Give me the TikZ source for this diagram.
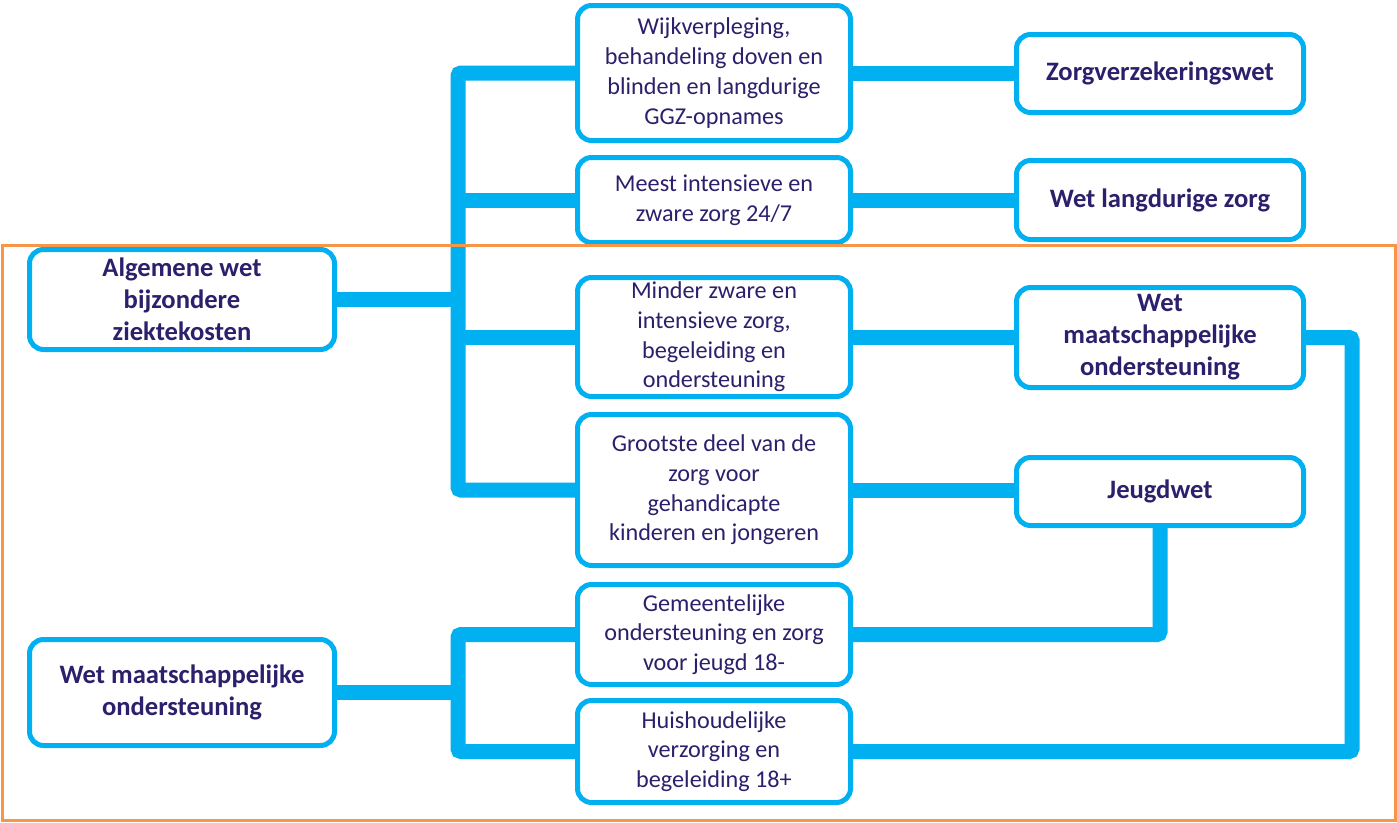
\documentclass[tikz,border=0pt]{standalone}
\usepackage{fontspec}
\setmainfont{Carlito}
\definecolor{zcyan}{RGB}{0,176,240}
\definecolor{znavy}{RGB}{44,32,108}
\definecolor{zorange}{RGB}{247,150,70}
\pgfdeclarelayer{bg}
\pgfsetlayers{bg,main}

\begin{document}
\begin{tikzpicture}[x=1pt,y=-1pt,
    lawbox/.style={draw=zcyan,line width=5pt,rounded corners=14pt,fill=white,
      align=center,text=znavy,inner sep=0pt},
    careitem/.style={lawbox,minimum width=273pt,font=\fontsize{24.2}{29.7}\selectfont},
    wetbox/.style={lawbox,font=\bfseries\fontsize{26.6}{32}\selectfont},
    link/.style={line width=15pt,zcyan,rounded corners=3pt}]
  \useasboundingbox (0,0) rectangle (1397,822);

  \node[wetbox,minimum width=305pt,minimum height=100pt] (awbz) at (182,299.5)
    {Algemene wet\\bijzondere\\ziektekosten};
  \node[wetbox,minimum width=305pt,minimum height=106pt] (wmo) at (182,692.5)
    {Wet maatschappelijke\\ondersteuning};

  \node[careitem,minimum height=135pt] (wijk) at (714,73)
    {Wijkverpleging,\\behandeling doven en\\blinden en langdurige\\GGZ-opnames};
  \node[careitem,minimum height=85pt] (meest) at (714,200)
    {Meest intensieve en\\zware zorg 24/7};
  \node[careitem,minimum height=119pt] (minder) at (714,337)
    {Minder zware en\\intensieve zorg,\\begeleiding en\\ondersteuning};
  \node[careitem,minimum height=151pt] (groot) at (714,490)
    {Grootste deel van de\\zorg voor\\gehandicapte\\kinderen en jongeren};
  \node[careitem,minimum height=100pt] (gem) at (714,634.5)
    {Gemeentelijke\\ondersteuning en zorg\\voor jeugd 18-};
  \node[careitem,minimum height=102pt] (huis) at (714,751.5)
    {Huishoudelijke\\verzorging en\\begeleiding 18+};

  \node[wetbox,minimum width=287pt,minimum height=78pt] (zvw) at (1160,73.5)
    {Zorgverzekeringswet};
  \node[wetbox,minimum width=287pt,minimum height=79pt] (wlz) at (1160,200)
    {Wet langdurige zorg};
  \node[wetbox,minimum width=287pt,minimum height=100pt] (wmoR) at (1160,337.5)
    {Wet\\maatschappelijke\\ondersteuning};
  \node[wetbox,minimum width=287pt,minimum height=68pt] (jw) at (1160,491.5)
    {Jeugdwet};

  \coordinate (bus) at (458,0);
  \coordinate (rbus) at (1352,0);

  \begin{pgfonlayer}{bg}
    \draw[link] (wijk.west) -| (groot.west -| bus) -- (groot.west);
    \draw[link] (meest.west) -- (meest.west -| bus);
    \draw[link] (minder.west) -- (minder.west -| bus);
    \draw[link] (awbz.east) -- (awbz.east -| bus);
    \draw[link] (wijk.east) -- (wijk.east -| zvw.west);
    \draw[link] (meest.east) -- (meest.east -| wlz.west);
    \draw[link] (minder.east) -- (minder.east -| wmoR.west);
    \draw[link] (groot.east) -- (groot.east -| jw.west);
    \draw[link] (gem.west) -| (huis.west -| bus) -- (huis.west);
    \draw[link] (wmo.east) -- (wmo.east -| bus);
    \draw[link] (jw.south) |- (gem.east);
    \draw[link] (wmoR.east) -| (rbus |- huis.east) -- (huis.east);
  \end{pgfonlayer}

  \draw[zorange,line width=3pt] (2,245) rectangle (1395,820);
\end{tikzpicture}
\end{document}
